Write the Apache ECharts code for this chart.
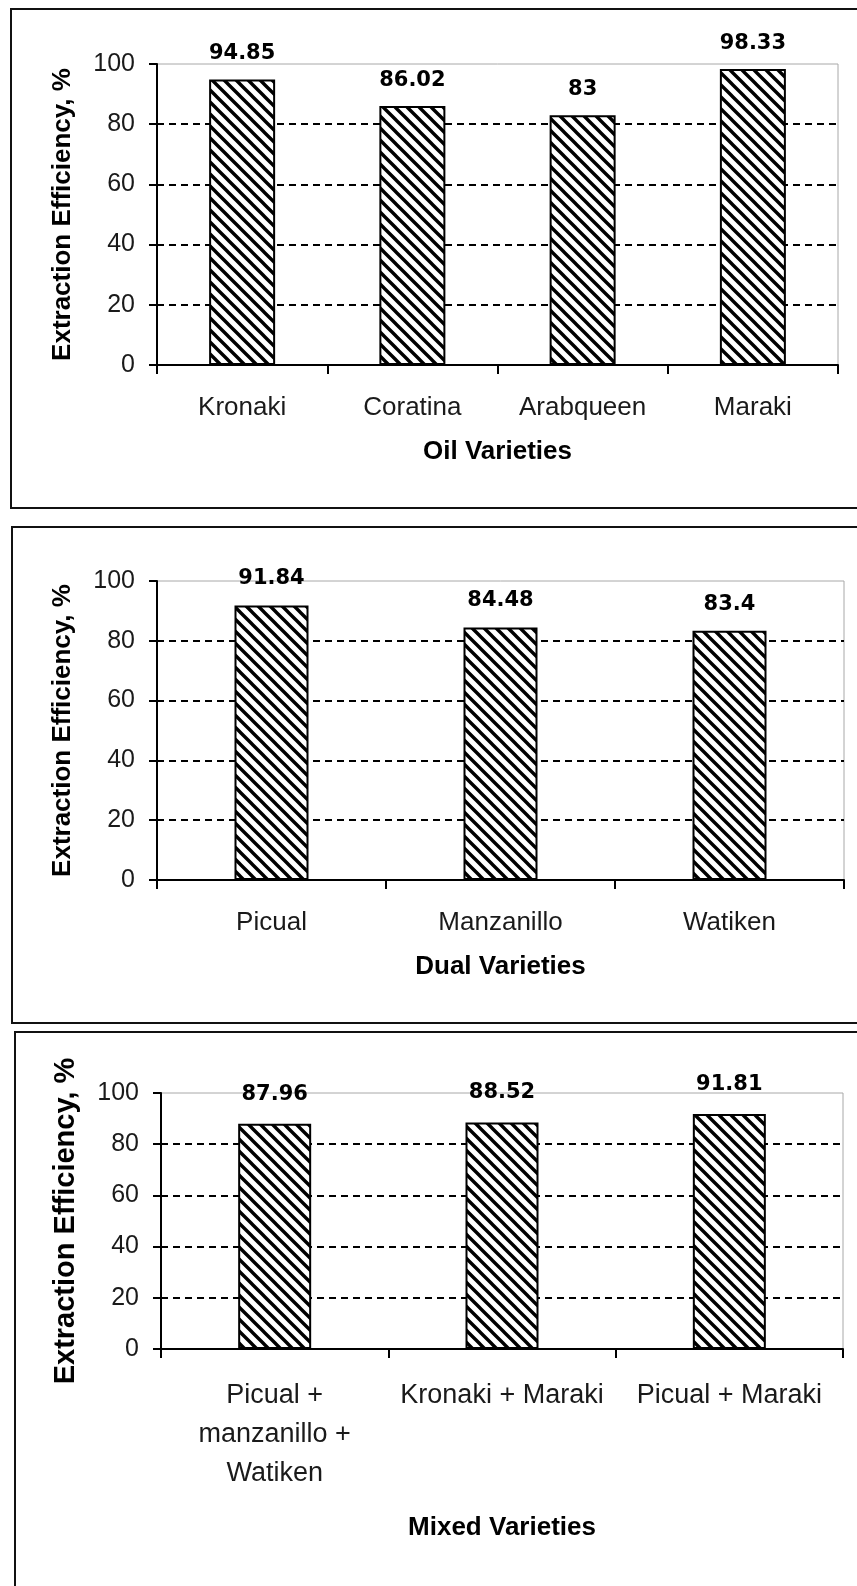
<!DOCTYPE html>
<html>
<head>
<meta charset="utf-8">
<script src="https://cdn.jsdelivr.net/npm/echarts@6/dist/echarts.min.js"></script>
<style>
  html, body { margin: 0; padding: 0; background: #fff; }
  #chart { width: 857px; height: 1586px; }
</style>
</head>
<body>
<div id="chart"></div>
<script>
// Extraction efficiency by olive variety group
const oilVarieties = ['Kronaki', 'Coratina', 'Arabqueen', 'Maraki'];
const oilValues = [94.85, 86.02, 83, 98.33];

const dualVarieties = ['Picual', 'Manzanillo', 'Watiken'];
const dualValues = [91.84, 84.48, 83.4];

const mixedVarieties = ['Picual +\nmanzanillo +\nWatiken', 'Kronaki + Maraki', 'Picual + Maraki'];
const mixedValues = [87.96, 88.52, 91.81];

const yTicks = [0, 20, 40, 60, 80, 100];
const yTitle = 'Extraction Efficiency, %';
const groupTitles = ['Oil Varieties', 'Dual Varieties', 'Mixed Varieties'];

// Diagonal "\\\" hatch tile used as bar fill
function hatchTile() {
  const s = 12;
  const c = document.createElement('canvas');
  c.width = s; c.height = s;
  const g = c.getContext('2d');
  g.fillStyle = '#fff';
  g.fillRect(0, 0, s, s);
  g.strokeStyle = '#000';
  g.lineWidth = 3.4;
  g.beginPath();
  for (let k = -1; k <= 1; k++) {
    g.moveTo(-3, -3 + k * s);
    g.lineTo(s + 3, s + 3 + k * s);
  }
  g.stroke();
  return c;
}
const hatch = { image: hatchTile(), repeat: 'repeat' };

const SANS = '"Liberation Sans", Arial, sans-serif';
const BOLD = '"DejaVu Sans", sans-serif';

const panels = [
  { cats: oilVarieties, vals: oilValues, grid: { left: 157, top: 64, width: 681, height: 301 },
    barWidth: 66, labelSize: 26, labelMargin: 28, nameGap: 74, yNameSize: 26, valueDist: 15, lineHeight: 30 },
  { cats: dualVarieties, vals: dualValues, grid: { left: 157, top: 581, width: 687, height: 299 },
    barWidth: 74, labelSize: 26, labelMargin: 28, nameGap: 74, yNameSize: 26, valueDist: 16, lineHeight: 30 },
  { cats: mixedVarieties, vals: mixedValues, grid: { left: 161, top: 1093, width: 682, height: 256 },
    barWidth: 73, labelSize: 27, labelMargin: 27, nameGap: 166, yNameSize: 29, valueDist: 19, lineHeight: 39 }
];

const axisStroke = { color: '#000', width: 2 };

const option = {
  animation: false,
  backgroundColor: '#fff',
  grid: panels.map(p => Object.assign({
    show: true, borderColor: '#a8a8a8', borderWidth: 1, backgroundColor: 'transparent'
  }, p.grid)),
  xAxis: panels.map((p, i) => ({
    type: 'category',
    gridIndex: i,
    data: p.cats,
    boundaryGap: true,
    axisLine: { show: true, lineStyle: axisStroke },
    axisTick: { show: true, length: 9, inside: false, lineStyle: axisStroke },
    axisLabel: {
      interval: 0, margin: p.labelMargin, fontFamily: SANS, fontSize: p.labelSize,
      color: '#1a1a1a', lineHeight: p.lineHeight
    },
    splitLine: { show: false },
    name: groupTitles[i],
    nameLocation: 'middle',
    nameGap: p.nameGap,
    nameTextStyle: { fontFamily: SANS, fontWeight: 'bold', fontSize: 26, color: '#000' }
  })),
  yAxis: panels.map((p, i) => ({
    type: 'value',
    gridIndex: i,
    min: yTicks[0],
    max: yTicks[yTicks.length - 1],
    interval: yTicks[1] - yTicks[0],
    axisLine: { show: true, lineStyle: axisStroke },
    axisTick: { show: true, length: 8, inside: false, lineStyle: axisStroke },
    axisLabel: { margin: 22, fontFamily: SANS, fontSize: 25, color: '#1a1a1a' },
    splitLine: {
      show: true, showMinLine: false, showMaxLine: false,
      lineStyle: { color: '#000', width: 2, type: [7, 5] }
    },
    name: yTitle,
    nameLocation: 'middle',
    nameGap: 81,
    nameTextStyle: { fontFamily: SANS, fontWeight: 'bold', fontSize: p.yNameSize, color: '#000' }
  })),
  series: panels.map((p, i) => ({
    type: 'bar',
    xAxisIndex: i,
    yAxisIndex: i,
    data: p.vals,
    barWidth: p.barWidth,
    itemStyle: { color: hatch, borderColor: '#000', borderWidth: 2 },
    label: {
      show: true, position: 'top', distance: p.valueDist, formatter: '{c}',
      fontFamily: BOLD, fontWeight: 'bold', fontSize: 21, color: '#000'
    }
  })),
  graphic: [
    // panel frames
    { type: 'polyline', shape: { points: [[857, 9], [11, 9], [11, 508], [857, 508]] },
      style: { stroke: '#111', lineWidth: 2, fill: null } },
    { type: 'polyline', shape: { points: [[857, 527], [12, 527], [12, 1023], [857, 1023]] },
      style: { stroke: '#111', lineWidth: 2, fill: null } },
    { type: 'polyline', shape: { points: [[857, 1032], [15, 1032], [15, 1586]] },
      style: { stroke: '#111', lineWidth: 2, fill: null } }
  ]
};

const chart = echarts.init(document.getElementById('chart'), null, { renderer: 'canvas' });
chart.setOption(option);
</script>
</body>
</html>
